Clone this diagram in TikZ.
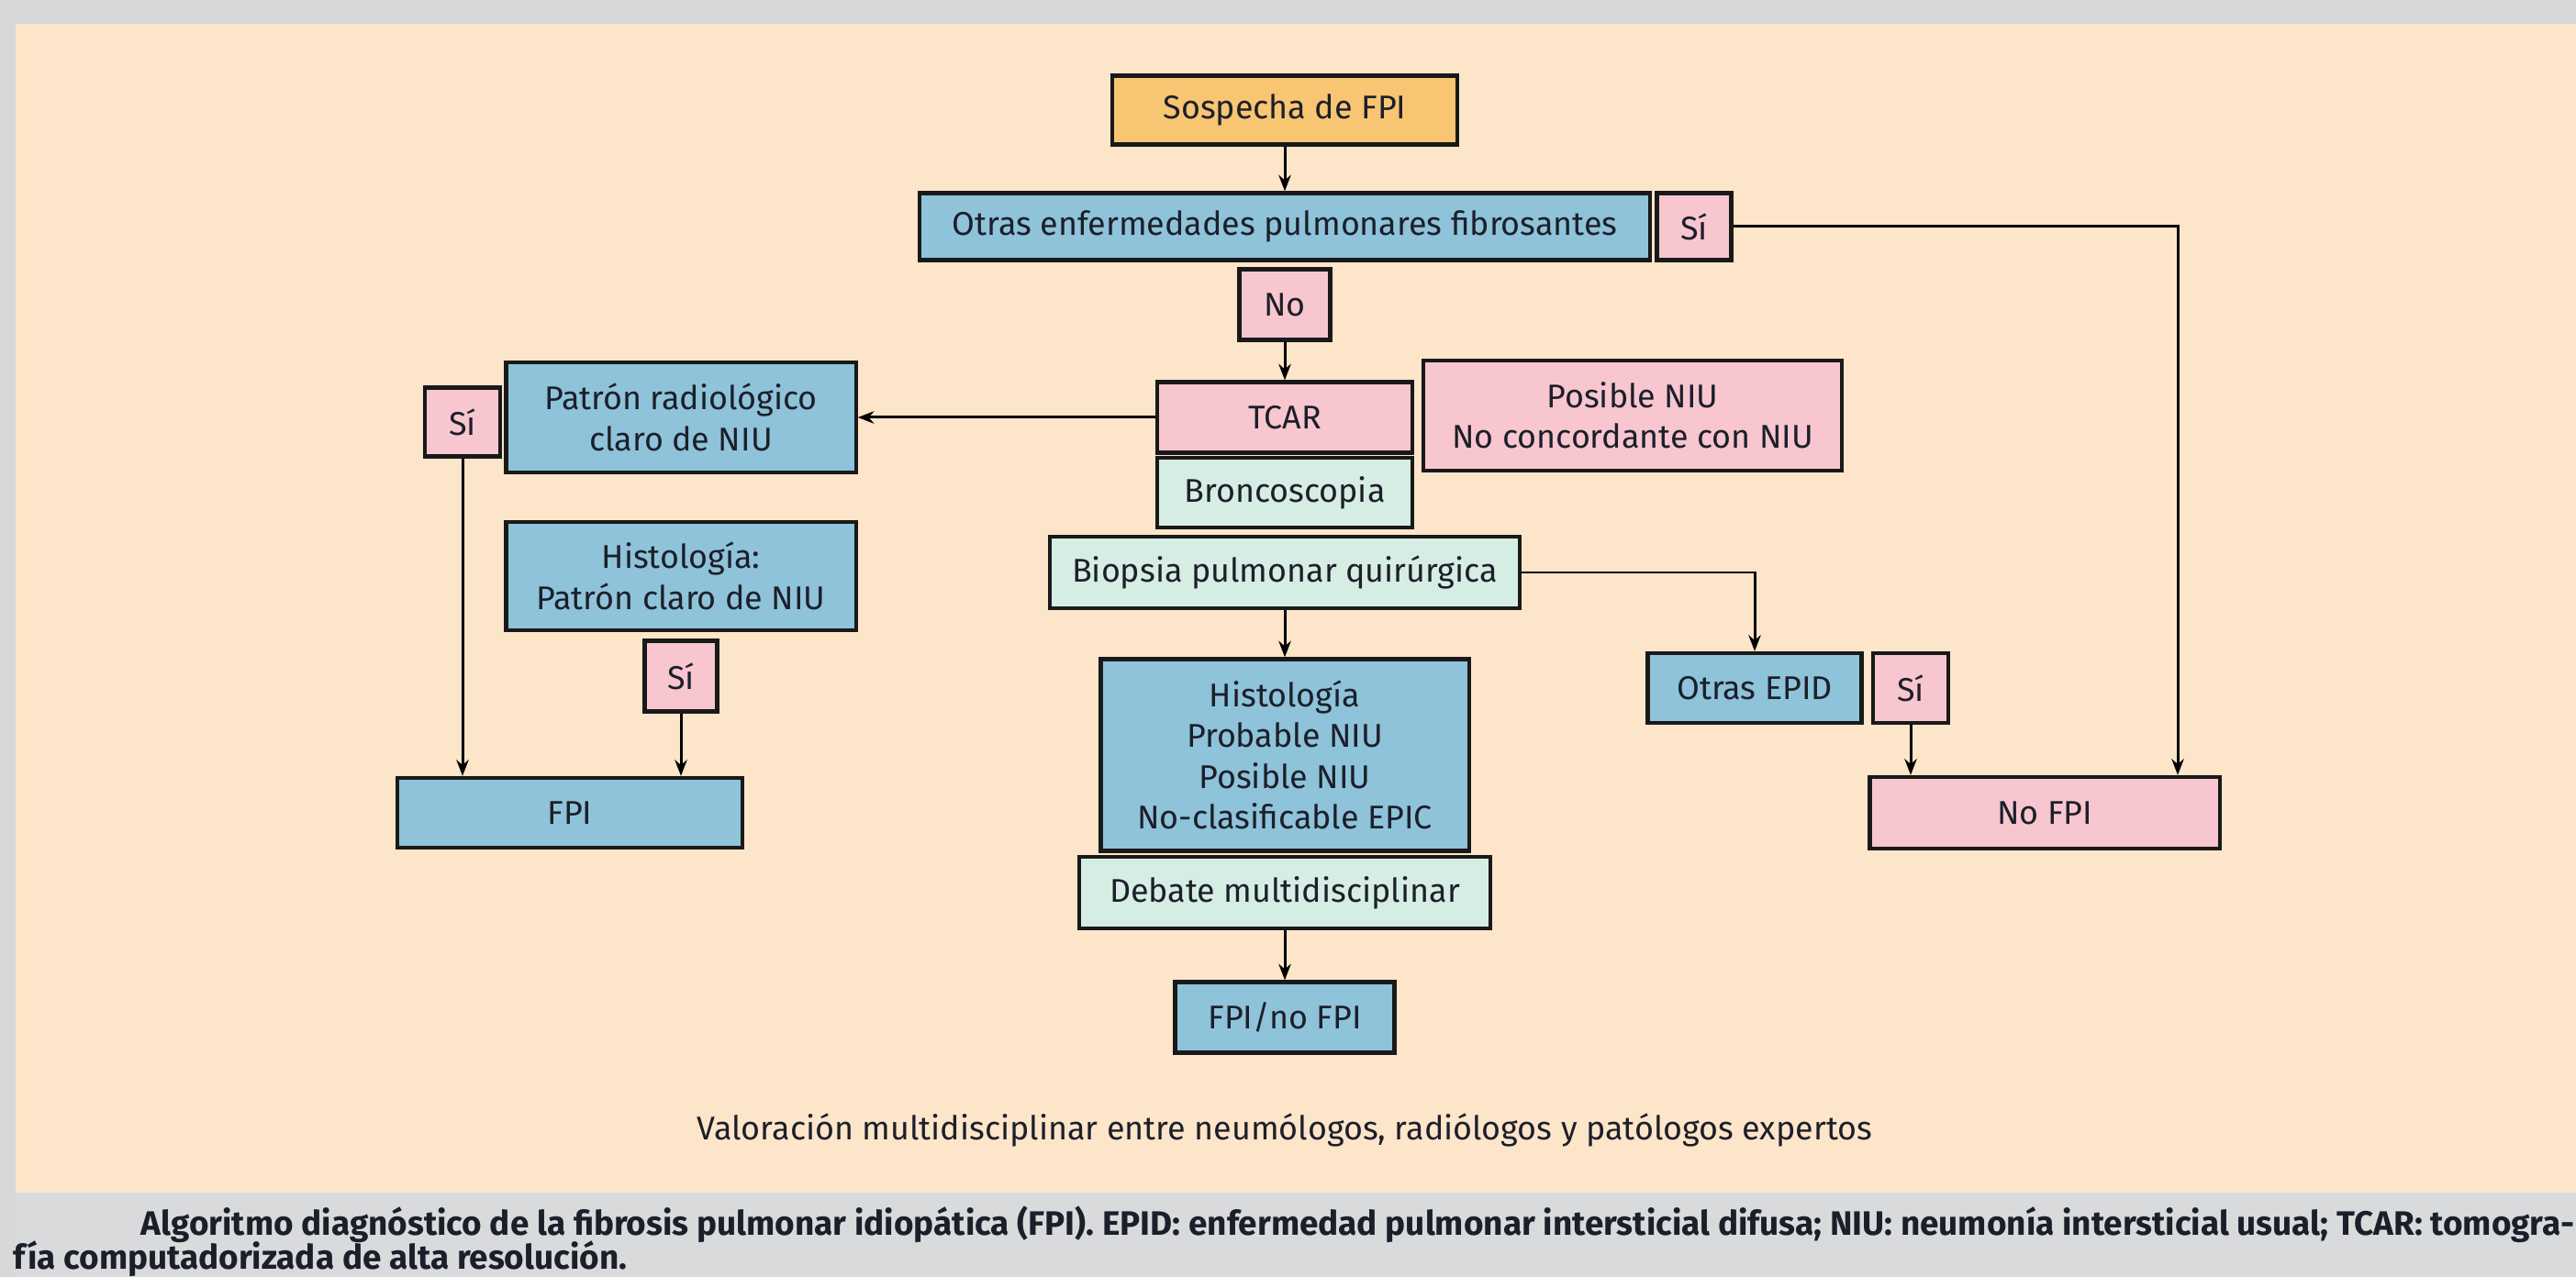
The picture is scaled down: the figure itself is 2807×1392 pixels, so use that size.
\documentclass[tikz,border=0pt]{standalone}
\usepackage{fontspec}
\setmainfont{Fira Sans}
\usepackage{xcolor}
\usepackage{tikz}
\usetikzlibrary{arrows.meta}

\definecolor{fondo}{HTML}{FDE5C9}
\definecolor{gris}{HTML}{D8D8D8}
\definecolor{pie}{HTML}{D9DADC}
\definecolor{cnaranja}{HTML}{F8C572}
\definecolor{cazul}{HTML}{8EC3DA}
\definecolor{crosa}{HTML}{F8C6CF}
\definecolor{cverde}{HTML}{D6EDE4}
\definecolor{tinta}{HTML}{1C1F2A}

\begin{document}
\begin{tikzpicture}[x=0.01cm, y=-0.01cm, >={Stealth[length=5pt, width=3.8pt]},
  caja/.style={draw=black!90, line width=1.2pt, inner sep=0pt, align=center,
    text=tinta, font=\fontsize{10.2}{12.6}\selectfont},
  flecha/.style={->, line width=0.85pt}]

% Fondo
\fill[gris] (0,0) rectangle (2807,1392);
\fill[fondo] (17,26) rectangle (2807,1300);
\fill[pie] (17,1300) rectangle (2807,1392);
\useasboundingbox (0,0) rectangle (2807,1392);

% Columna central
\node[caja, fill=cnaranja, minimum width=3.76cm, minimum height=0.75cm] (sospecha) at (1400,120) {Sospecha de FPI};
\node[caja, fill=cazul, minimum width=7.95cm, minimum height=0.73cm] (otras) at (1400,247) {Otras enfermedades pulmonares fibrosantes};
\node[caja, fill=crosa, minimum width=0.81cm, minimum height=0.73cm] (si1) at (1846,247) {Sí};
\node[caja, fill=crosa, minimum width=0.99cm, minimum height=0.77cm] (no) at (1400,332) {No};
\node[caja, fill=crosa, minimum width=2.78cm, minimum height=0.77cm] (tcar) at (1400,455) {TCAR};
\node[caja, fill=crosa, minimum width=4.56cm, minimum height=1.2cm] (posible) at (1779,453) {Posible NIU\\No concordante con NIU};
\node[caja, fill=cverde, minimum width=2.78cm, minimum height=0.76cm] (bronco) at (1400,537) {Broncoscopia};
\node[caja, fill=cverde, minimum width=5.12cm, minimum height=0.78cm] (biopsia) at (1400,624) {Biopsia pulmonar quirúrgica};
\node[caja, fill=cazul, minimum width=4.01cm, minimum height=2.09cm] (histo2) at (1400,823) {Histología\\Probable NIU\\Posible NIU\\No-clasificable EPIC};
\node[caja, fill=cverde, minimum width=4.48cm, minimum height=0.78cm] (debate) at (1400,973) {Debate multidisciplinar};
\node[caja, fill=cazul, minimum width=2.39cm, minimum height=0.77cm] (fpino) at (1400,1109) {FPI/no FPI};

% Rama izquierda
\node[caja, fill=cazul, minimum width=3.81cm, minimum height=1.2cm] (patron) at (742,455) {Patrón radiológico\\claro de NIU};
\node[caja, fill=crosa, minimum width=0.82cm, minimum height=0.75cm] (si2) at (504,460) {Sí};
\node[caja, fill=cazul, minimum width=3.81cm, minimum height=1.18cm] (histo1) at (742,628) {Histología:\\Patrón claro de NIU};
\node[caja, fill=crosa, minimum width=0.79cm, minimum height=0.77cm] (si3) at (742,737) {Sí};
\node[caja, fill=cazul, minimum width=3.76cm, minimum height=0.76cm] (fpi) at (621,886) {FPI};

% Rama derecha
\node[caja, fill=cazul, minimum width=2.33cm, minimum height=0.76cm] (epid) at (1912,750) {Otras EPID};
\node[caja, fill=crosa, minimum width=0.82cm, minimum height=0.76cm] (si4) at (2082,750) {Sí};
\node[caja, fill=crosa, minimum width=3.81cm, minimum height=0.78cm] (nofpi) at (2228,886) {No FPI};
\coordinate (esq1) at (2373,247);

% Flechas
\draw[flecha] (sospecha) -- (otras);
\draw[flecha] (no) -- (tcar);
\draw[flecha] (tcar) -- (patron);
\draw[flecha] (si1.east) -- (esq1) -- (esq1 |- nofpi.north);
\draw[flecha] (si2.south) -- (si2.south |- fpi.north);
\draw[flecha] (si3.south) -- (si3.south |- fpi.north);
\draw[flecha] (biopsia) -- (histo2);
\draw[flecha] (biopsia.east) -| (epid.north);
\draw[flecha] (si4.south) -- (si4.south |- nofpi.north);
\draw[flecha] (debate) -- (fpino);

% Textos
\node[text=tinta, font=\fontsize{10.2}{11}\selectfont] (valor) at (1400,1232) {Valoración multidisciplinar entre neumólogos, radiólogos y patólogos expertos};
\node[anchor=west, inner sep=0pt, text=tinta, font=\fontsize{10.5}{11}\selectfont\bfseries] (pie1) at (153,1335) {Algoritmo diagnóstico de la fibrosis pulmonar idiopática (FPI). EPID: enfermedad pulmonar intersticial difusa; NIU: neumonía intersticial usual; TCAR: tomogra-};
\node[anchor=west, inner sep=0pt, text=tinta, font=\fontsize{10.5}{11}\selectfont\bfseries] (pie2) at (14,1372) {fía computadorizada de alta resolución.};

\end{tikzpicture}
\end{document}
